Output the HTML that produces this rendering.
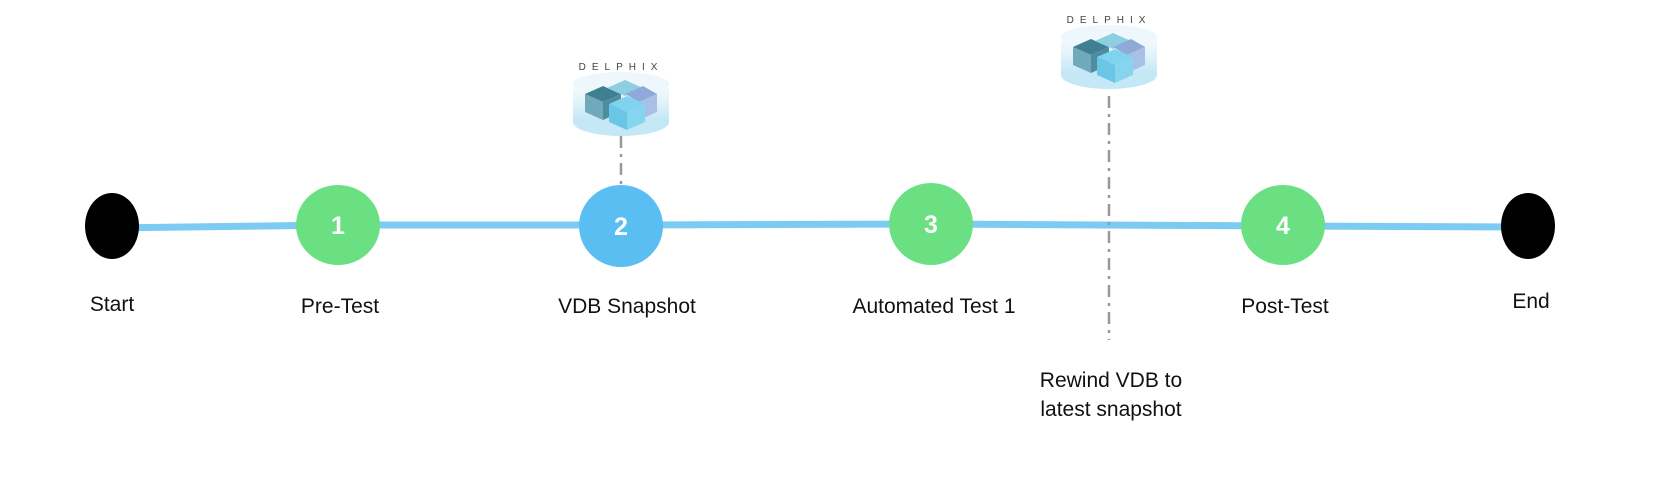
<!DOCTYPE html>
<html><head><meta charset="utf-8"><style>
html,body{margin:0;padding:0;background:#fff;}
svg{display:block}
text{font-family:"Liberation Sans",sans-serif;}
</style></head><body>
<svg width="1678" height="488" viewBox="0 0 1678 488" xmlns="http://www.w3.org/2000/svg">
<defs>
<linearGradient id="cyl" x1="0" y1="0" x2="0" y2="1">
<stop offset="0" stop-color="#f8fcfe"/><stop offset="0.5" stop-color="#e0f2fa"/><stop offset="1" stop-color="#c0e6f5"/>
</linearGradient>
<g id="dx">
<ellipse cx="0" cy="56" rx="48" ry="14" fill="#c4e8f6"/>
<rect x="-48" y="18" width="96" height="38" fill="url(#cyl)"/>
<ellipse cx="0" cy="18" rx="48" ry="12" fill="#eef7fc"/>
<text x="0" y="4" text-anchor="middle" font-size="10" letter-spacing="6" fill="#444">DELPHIX</text>
<polygon points="-36,28 -18,20 0,28 -18,36" fill="#3f7f92"/>
<polygon points="-36,28 -18,36 -18,54 -36,46" fill="#6fa9ba"/>
<polygon points="-18,36 0,28 0,46 -18,54" fill="#4e8da0"/>
<polygon points="-14,22 4,14 22,22 4,30" fill="#8ccfe0"/>
<polygon points="4,28 22,20 36,28 18,36" fill="#8fa9d9"/>
<polygon points="18,36 36,28 36,46 18,54" fill="#a8bfe6"/>
<polygon points="-12,38 6,30 24,38 6,46" fill="#7fd3ee"/>
<polygon points="-12,38 6,46 6,64 -12,56" fill="#6ac6e6"/>
<polygon points="6,46 24,38 24,56 6,64" fill="#86d5ef"/>
</g>
</defs>
<polyline points="112,228 338,225 621,225 931,224 1283,226 1528,227" fill="none" stroke="#7ccbf2" stroke-width="7"/>
<line x1="621" y1="136" x2="621" y2="190" stroke="#999" stroke-width="2.5" stroke-dasharray="12,6,3,6"/>
<line x1="1109" y1="96" x2="1109" y2="340" stroke="#999" stroke-width="2.5" stroke-dasharray="12,6,3,6"/>
<use href="#dx" x="621" y="66"/>
<use href="#dx" x="1109" y="19"/>
<ellipse cx="112" cy="226" rx="27" ry="33" fill="#000"/>
<ellipse cx="338" cy="225" rx="42" ry="40" fill="#6ae083"/>
<ellipse cx="621" cy="226" rx="42" ry="41" fill="#5bbef2"/>
<ellipse cx="931" cy="224" rx="42" ry="41" fill="#6ae083"/>
<ellipse cx="1283" cy="225" rx="42" ry="40" fill="#6ae083"/>
<ellipse cx="1528" cy="226" rx="27" ry="33" fill="#000"/>
<g fill="#fff" font-size="25" font-weight="bold" text-anchor="middle">
<text x="338" y="234">1</text><text x="621" y="235">2</text><text x="931" y="233">3</text><text x="1283" y="234">4</text>
</g>
<g fill="#111" font-size="21" text-anchor="middle">
<text x="112" y="311">Start</text>
<text x="340" y="313">Pre-Test</text>
<text x="627" y="313">VDB Snapshot</text>
<text x="934" y="313">Automated Test 1</text>
<text x="1285" y="313">Post-Test</text>
<text x="1531" y="308">End</text>
<text x="1111" y="387">Rewind VDB to</text>
<text x="1111" y="416">latest snapshot</text>
</g>
</svg>
</body></html>
